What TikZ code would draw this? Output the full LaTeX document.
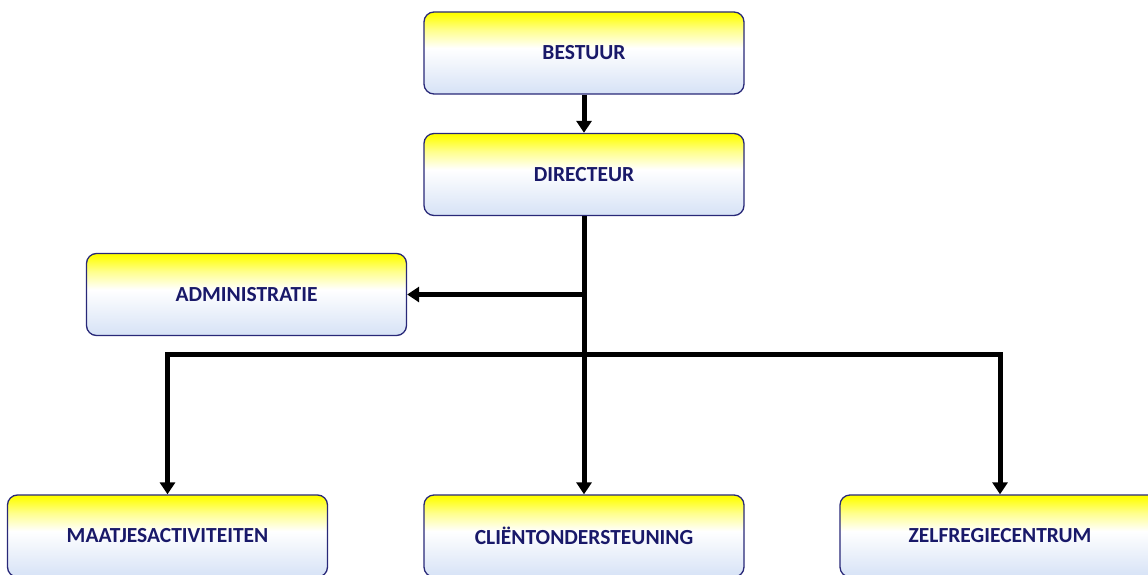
\documentclass[tikz,border=0pt]{standalone}
\usepackage{fontspec}
\setmainfont{Carlito}
\usetikzlibrary{arrows.meta}
\definecolor{navy}{RGB}{25,25,105}
\definecolor{boxedge}{RGB}{40,40,120}
\definecolor{paleblue}{RGB}{214,226,246}
\pgfdeclareverticalshading{boxshade}{100bp}{color(0bp)=(paleblue); color(25bp)=(paleblue); color(53bp)=(white); color(64bp)=(yellow!45!white); color(74bp)=(yellow); color(100bp)=(yellow)}
\tikzset{
  orgbox/.style={rectangle, rounded corners=10pt, draw=boxedge, line width=1.3pt,
    shading=boxshade,
    minimum width=320pt, minimum height=82pt, inner sep=0pt,
    font=\fontsize{21.5}{25}\selectfont\bfseries, text=navy},
  conn/.style={line width=5pt, black, -{Triangle[length=12pt,width=15pt]}}
}
\begin{document}
\begin{tikzpicture}[x=1pt,y=-1pt]
\useasboundingbox (0,0) rectangle (1148,575);
\fill[white] (0,0) rectangle (1148,575);
\node[orgbox] (best) at (584,53) {BESTUUR};
\node[orgbox] (dir) at (584,174.5) {DIRECTEUR};
\node[orgbox] (adm) at (246.5,294.5) {ADMINISTRATIE};
\node[orgbox] (maat) at (167.5,536) {MAATJESACTIVITEITEN};
\node[orgbox] (cli) at (584,536) {CLIËNTONDERSTEUNING};
\node[orgbox] (zelf) at (1000,536) {ZELFREGIECENTRUM};
\coordinate (bus) at (584,354);
\coordinate (ja) at (dir.south |- adm.east);
\draw[conn] (best.south) -- (dir.north);
\draw[conn] (dir.south) -- (cli.north);
\draw[conn] (ja) -- (adm.east);
\draw[conn] (bus) -| (maat.north);
\draw[conn] (bus) -| (zelf.north);
\end{tikzpicture}
\end{document}
